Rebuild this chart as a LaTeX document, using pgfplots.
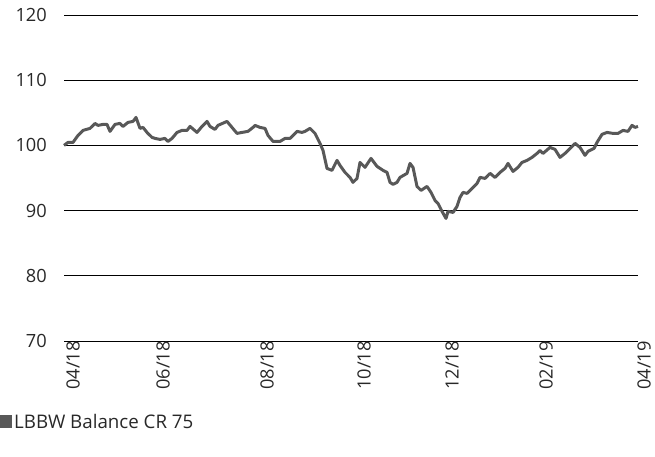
\documentclass[border=0pt]{standalone}
\usepackage{pgfplots}
\pgfplotsset{compat=1.18}
\usepackage{fontspec}
\setmainfont{Open Sans}
\definecolor{linegray}{RGB}{88,88,88}
\definecolor{txtgray}{RGB}{40,40,40}
\begin{document}
\begin{tikzpicture}[x=1bp,y=1bp]
\path[use as bounding box] (0,0) rectangle (655,457);
\begin{axis}[
  at={(64bp,116bp)}, anchor=south west,
  scale only axis, width=574bp, height=326bp,
  xmin=64, xmax=638, ymin=70, ymax=120,
  axis line style={draw=none},
  ytick={70,80,...,120},
  ymajorgrids, grid style={black, line width=0.9pt},
  major tick length=0pt,
  xtick={64,154,258,355,443,537,635},
  xticklabels={04/18,06/18,08/18,10/18,12/18,02/19,04/19},
  /pgf/number format/assume math mode=true,
  tick label style={font=\fontsize{18.3}{20}\selectfont, text=txtgray},
  x tick label style={rotate=90, anchor=east, inner sep=0pt, yshift=-9bp},
  y tick label style={anchor=east, inner sep=0pt, xshift=-17bp},
  clip=false,
  legend style={at={(axis description cs:-0.1115,-0.248)}, anchor=west,
    draw=none, fill=none, inner sep=0pt,
    font=\fontsize{18.8}{20}\selectfont, text=txtgray},
  legend cell align=left,
]
\addplot[linegray, line width=3pt, line join=round,
  legend image code/.code={\fill[linegray, draw=none, line width=0pt] (0bp,-6.5bp) rectangle (12bp,6.5bp);}]
coordinates {
(64,100.00) (68,100.46) (73,100.46) (78,101.53) (83,102.30) (90,102.61)
(95,103.37) (98,103.07) (103,103.22) (107,103.22) (110,102.15) (115,103.22)
(120,103.37) (123,102.91) (128,103.53) (133,103.68) (136,104.29) (140,102.61)
(143,102.76) (147,101.99) (152,101.23) (155,101.07) (160,100.92) (165,101.07)
(168,100.61) (172,101.07) (177,101.99) (182,102.30) (187,102.30) (190,102.91)
(197,101.99) (202,102.91) (207,103.68) (210,102.91) (215,102.45) (218,103.07)
(227,103.68) (232,102.76) (237,101.84) (242,101.99) (248,102.15) (253,102.76)
(255,103.07) (260,102.76) (265,102.61) (268,101.53) (273,100.61) (280,100.61)
(285,101.07) (290,101.07) (297,102.15) (302,101.99) (305,102.15) (310,102.61)
(315,101.84) (320,100.31) (323,99.23) (327,96.47) (332,96.17) (337,97.70)
(340,96.93) (345,95.86) (350,95.09) (353,94.33) (357,94.94) (360,97.39)
(365,96.63) (371,98.01) (377,96.78) (383,96.17) (387,95.86) (390,94.33)
(393,94.02) (397,94.33) (400,95.09) (407,95.71) (410,97.24) (413,96.63)
(417,93.71) (421,93.10) (427,93.71) (431,92.79) (435,91.56) (438,91.10)
(442,89.88) (446,88.80) (448,89.88) (453,89.72) (457,90.64) (460,92.02)
(463,92.79) (467,92.64) (472,93.40) (477,94.17) (480,95.09) (485,94.94)
(490,95.71) (495,95.09) (500,95.86) (505,96.47) (508,97.24) (513,96.01)
(518,96.63) (522,97.39) (527,97.70) (532,98.16) (537,98.77) (540,99.23)
(543,98.77) (550,99.69) (555,99.39) (560,98.16) (565,98.77) (570,99.54)
(575,100.31) (580,99.69) (585,98.47) (588,99.08) (594,99.54) (597,100.46)
(602,101.69) (607,101.99) (613,101.84) (618,101.84) (623,102.30) (628,102.15)
(632,103.07) (635,102.76) (638,102.91)
};
\addlegendentry{LBBW Balance CR 75}
\end{axis}
\end{tikzpicture}
\end{document}
